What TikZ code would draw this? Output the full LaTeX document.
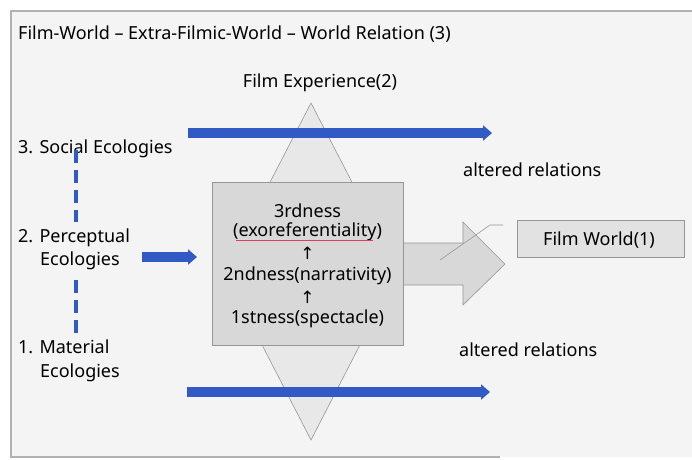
\documentclass[tikz,border=0pt]{standalone}
\usepackage{fontspec}
\setmainfont{Noto Sans}
\newfontfamily\arrfont{DejaVu Sans}
\usetikzlibrary{arrows.meta}
\definecolor{bgc}{RGB}{244,244,244}
\definecolor{framec}{RGB}{178,178,178}
\definecolor{boxc}{RGB}{216,216,216}
\definecolor{diac}{RGB}{232,232,232}
\definecolor{edgec}{RGB}{150,150,150}
\definecolor{bluec}{RGB}{50,90,196}
\definecolor{fwc}{RGB}{226,226,226}
\definecolor{spellc}{RGB}{225,60,100}
\begin{document}
\begin{tikzpicture}[x=1pt,y=-1pt,
  txt/.style={inner sep=0pt,anchor=base west,font=\fontsize{18}{21}\selectfont},
  ctxt/.style={inner sep=0pt,anchor=base,font=\fontsize{18}{21}\selectfont},
  uparr/.style={inner sep=0pt,anchor=base,font=\arrfont\fontsize{17}{19}\selectfont},
  bluearrow/.style={draw=bluec,line width=9.5pt,-{Triangle[length=9pt,width=15pt]}},
  dashline/.style={draw=bluec,line width=4pt,dash pattern=on 13pt off 7pt},
  outl/.style={draw=edgec,line width=0.6pt}]
\useasboundingbox (0,0) rectangle (692,459);
\fill[white] (0,0) rectangle (692,459);
\fill[bgc] (11,11) rectangle (692,457);
\draw[framec,line width=1.5pt] (692,11) -- (11,11) -- (11,457) -- (500,457);
% title
\node[txt] (title) at (18,39) {Film-World – Extra-Filmic-World – World Relation (3)};
\node[ctxt] (fe) at (320,87) {Film Experience(2)};
% diamond
\filldraw[outl,fill=diac] (311,103) -- (398,271) -- (311,440) -- (224,271) -- cycle;
% top/bottom blue arrows
\coordinate (ta1) at (188,133);
\coordinate (ta2) at (492,133);
\coordinate (ba1) at (187,392);
\coordinate (ba2) at (490,392);
\draw[bluearrow] (ta1) -- (ta2);
\draw[bluearrow] (ba1) -- (ba2);
% block arrow
\filldraw[outl,fill=boxc] (400,243) -- (463,243) -- (463,222) -- (505,264) -- (463,305) -- (463,285) -- (400,285);
% box
\node[outl,fill=boxc,minimum width=191pt,minimum height=163pt,inner sep=0pt] (box) at (307.5,263.5) {};
\draw[edgec,line width=0.6pt] (440,260) -- (490,225) -- (503,225);
% box text
\node[ctxt] (t3) at (307.5,217) {3rdness};
\node[ctxt] (t3b) at (307.5,236) {(exoreferentiality)};
\draw[spellc,line width=0.7pt] ([xshift=3pt,yshift=-4pt]t3b.base west) -- ([xshift=-9pt,yshift=-4pt]t3b.base east);
\node[uparr] (a1) at (307.5,259) {↑};
\node[ctxt] (t2) at (307.5,280) {2ndness(narrativity)};
\node[uparr] (a2) at (307.5,303) {↑};
\node[ctxt] (t1) at (307.5,323) {1stness(spectacle)};
% film world
\node[outl,fill=fwc,minimum width=167pt,minimum height=37pt,inner sep=0pt] (fw) at (600.5,238.5) {};
\node[ctxt] (fwt) at (599,245) {Film World(1)};
% left texts
\node[txt] (soc) at (18,153) {3. Social Ecologies};
\node[txt] (per) at (18,242) {2. Perceptual};
\node[txt] (pere) at (40,265) {Ecologies};
\node[txt] (mat) at (18,353) {1. Material};
\node[txt] (mate) at (40,377) {Ecologies};
\node[txt] (ar1) at (463,176) {altered relations};
\node[txt] (ar2) at (459,356) {altered relations};
% middle blue arrow
\coordinate (ma1) at (142,257);
\coordinate (ma2) at (197,257);
\draw[bluearrow] (ma1) -- (ma2);
% dashed line
\coordinate (d1) at (76,150);
\coordinate (d2) at (76,222);
\coordinate (d3) at (76,280);
\coordinate (d4) at (76,338);
\draw[dashline] (d1) -- (d2);
\draw[dashline] (d3) -- (d4);
\end{tikzpicture}
\end{document}
